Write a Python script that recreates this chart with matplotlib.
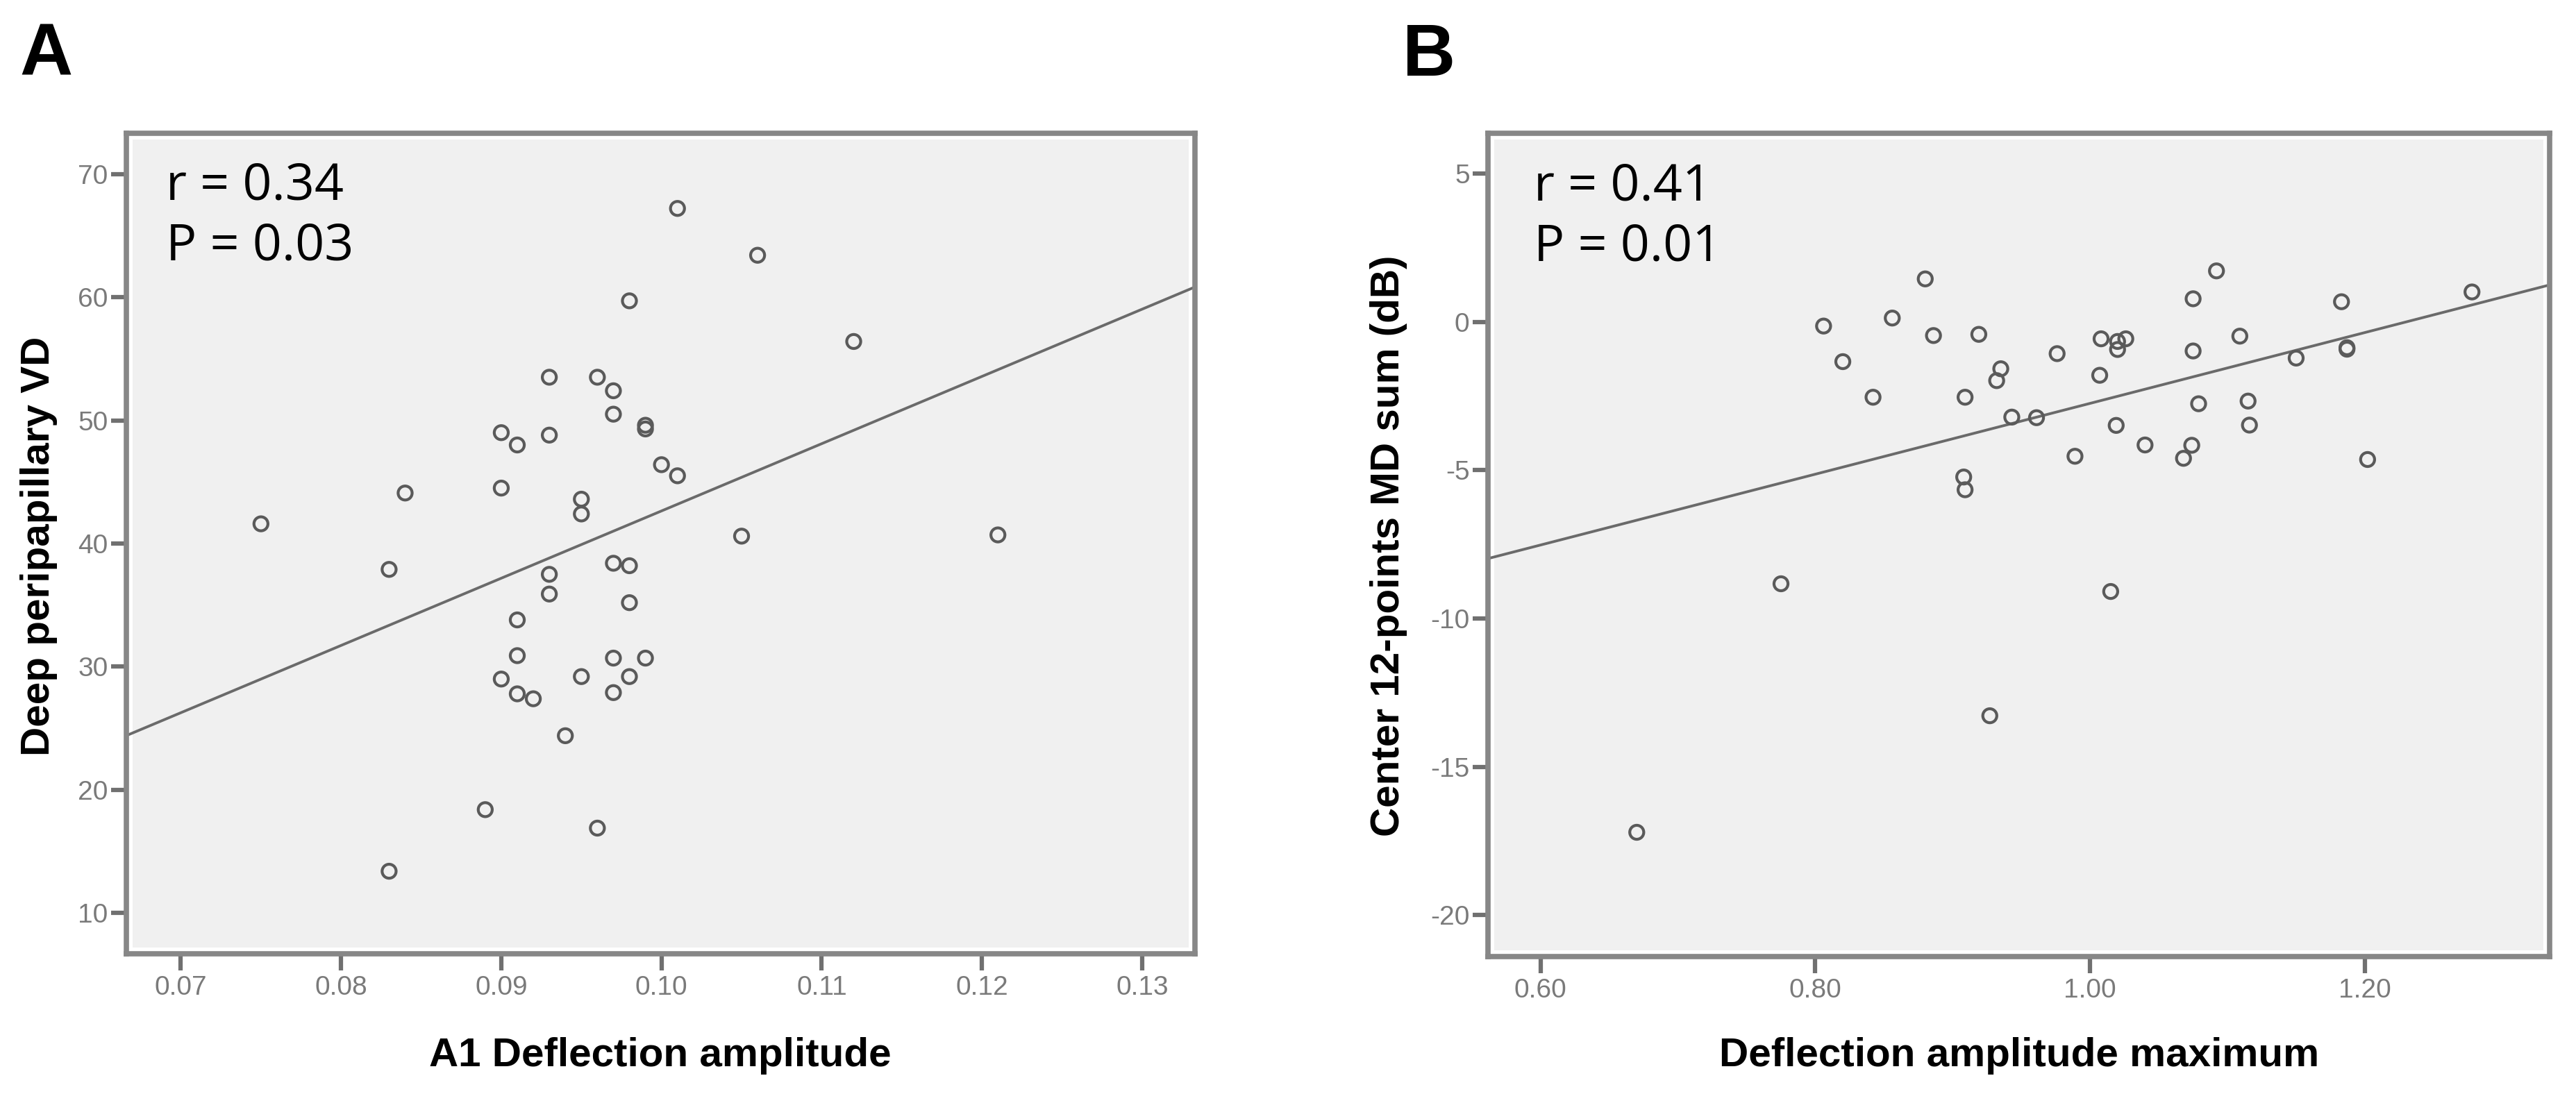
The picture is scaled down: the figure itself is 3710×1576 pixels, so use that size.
import numpy as np
import matplotlib
matplotlib.use('Agg')
import matplotlib.pyplot as plt
import matplotlib.patches as patches

# --- data ---
# Panel A
a1_deflection = [0.101, 0.106, 0.098, 0.112, 0.093, 0.096, 0.097, 0.097, 0.099, 0.099,
                 0.090, 0.091, 0.093, 0.100, 0.101, 0.090, 0.084, 0.095, 0.095, 0.075,
                 0.105, 0.121, 0.083, 0.097, 0.098, 0.093, 0.093, 0.098, 0.091, 0.091,
                 0.097, 0.099, 0.090, 0.095, 0.098, 0.091, 0.092, 0.097, 0.094, 0.089,
                 0.096, 0.083]
deep_vd = [67.2, 63.4, 59.7, 56.4, 53.5, 53.5, 52.4, 50.5, 49.6, 49.3,
           49.0, 48.0, 48.8, 46.4, 45.5, 44.5, 44.1, 43.6, 42.4, 41.6,
           40.6, 40.7, 37.9, 38.4, 38.2, 37.5, 35.9, 35.2, 33.8, 30.9,
           30.7, 30.7, 29.0, 29.2, 29.2, 27.8, 27.4, 27.9, 24.4, 18.4,
           16.9, 13.4]
a_xticks = [0.07, 0.08, 0.09, 0.10, 0.11, 0.12, 0.13]
a_yticks = [10, 20, 30, 40, 50, 60, 70]
a_xlim = (0.0666, 0.1333)
a_ylim = (6.7, 73.3)
a_stats = ['r = 0.34', 'P = 0.03']

# Panel B
deflection_max = [0.880, 0.856, 0.886, 0.919, 1.092, 1.075, 1.109, 1.075, 0.976, 1.008,
                  1.020, 1.026, 1.020, 0.935, 0.932, 1.007, 0.842, 0.909, 1.079, 1.115,
                  0.943, 0.961, 1.019, 1.116, 1.040, 1.074, 1.068, 0.989, 0.908, 0.909,
                  1.015, 1.183, 1.278, 0.806, 0.820, 1.150, 1.187, 1.187, 1.202, 0.775,
                  0.927, 0.670]
md_sum = [1.45, 0.13, -0.46, -0.42, 1.72, 0.78, -0.48, -0.98, -1.07, -0.57,
          -0.66, -0.57, -0.93, -1.58, -1.98, -1.80, -2.54, -2.54, -2.76, -2.67,
          -3.21, -3.23, -3.49, -3.48, -4.15, -4.16, -4.60, -4.53, -5.23, -5.66,
          -9.09, 0.68, 1.01, -0.14, -1.34, -1.22, -0.87, -0.92, -4.64, -8.83,
          -13.28, -17.21]
b_xticks = [0.60, 0.80, 1.00, 1.20]
b_yticks = [5, 0, -5, -10, -15, -20]
b_xlim = (0.5617, 1.3345)
b_ylim = (-21.4, 6.36)
b_stats = ['r = 0.41', 'P = 0.01']

W, H = 3710, 1576
fig = plt.figure(figsize=(W / 100, H / 100), dpi=100)

tick_font = ['Liberation Sans', 'DejaVu Sans']
label_font = ['Liberation Sans', 'DejaVu Sans']
stat_font = ['Open Sans', 'DejaVu Sans']


def px_box(x0, y0, x1, y1):
    # pixel box (top-left origin) -> figure fraction rect
    return [x0 / W, 1 - y1 / H, (x1 - x0) / W, (y1 - y0) / H]


def style_axes(ax, xticks, yticks, xfmt, xlim, ylim):
    ax.set_facecolor('#f0f0f0')
    ax.set_xlim(*xlim)
    ax.set_ylim(*ylim)
    for sp in ax.spines.values():
        sp.set_color('#878787')
        sp.set_linewidth(5.5)
    # thin white frame just inside the border
    ax.add_patch(patches.Rectangle((0, 0), 1, 1, transform=ax.transAxes, fill=False,
                                   edgecolor='white', linewidth=13, zorder=0.6, clip_on=False))
    ax.set_xticks(xticks)
    ax.set_xticklabels([xfmt.format(v) for v in xticks])
    ax.set_yticks(yticks)
    ax.set_yticklabels([str(v) for v in yticks])
    ax.tick_params(axis='both', direction='out', color='#707070', width=4.5,
                   labelcolor='#7a7a7a', labelsize=28)
    ax.tick_params(axis='x', length=17, pad=5)
    ax.tick_params(axis='y', length=16, pad=3)
    for lab in ax.get_xticklabels() + ax.get_yticklabels():
        lab.set_family(tick_font)


def draw_panel(ax, x, y, stats, left_frac):
    ax.scatter(x, y, s=210, facecolors='none', edgecolors='#5a5a5a', linewidths=3, zorder=3)
    slope, intercept = np.polyfit(x, y, 1)
    xs = np.array(ax.get_xlim())
    ax.plot(xs, slope * xs + intercept, color='#6a6a6a', linewidth=2.8, zorder=2)
    ax.set_xlim(*xs)
    ax.text(left_frac, 0.919, stats[0], transform=ax.transAxes, fontsize=53,
            family=stat_font, va='baseline', ha='left', color='black')
    ax.text(left_frac, 0.8455, stats[1], transform=ax.transAxes, fontsize=53,
            family=stat_font, va='baseline', ha='left', color='black')


# Panel A
ax_a = fig.add_axes(px_box(182, 192, 1721, 1374))
style_axes(ax_a, a_xticks, a_yticks, '{:.2f}', a_xlim, a_ylim)
draw_panel(ax_a, a1_deflection, deep_vd, a_stats, 0.037)

# Panel B
ax_b = fig.add_axes(px_box(2143, 192, 3672, 1378))
style_axes(ax_b, b_xticks, b_yticks, '{:.2f}', b_xlim, b_ylim)
draw_panel(ax_b, deflection_max, md_sum, b_stats, 0.043)

# axis titles
fig.text(951 / W, 1 - 1536 / H, 'A1 Deflection amplitude', ha='center', va='baseline',
         fontsize=42, fontweight='bold', family=label_font)
fig.text(56 / W, 1 - 787 / H, 'Deep peripapillary VD', ha='center', va='center',
         rotation=90, fontsize=42, fontweight='bold', family=label_font)
fig.text(2908 / W, 1 - 1536 / H, 'Deflection amplitude maximum', ha='center', va='baseline',
         fontsize=42, fontweight='bold', family=label_font)
fig.text(2000 / W, 1 - 786 / H, 'Center 12-points MD sum (dB)', ha='center', va='center',
         rotation=90, fontsize=42, fontweight='bold', family=label_font)

# panel letters
fig.text(28 / W, 1 - 109 / H, 'A', ha='left', va='baseline', fontsize=76,
         fontweight='bold', family=label_font)
fig.text(2020 / W, 1 - 109 / H, 'B', ha='left', va='baseline', fontsize=76,
         fontweight='bold', family=label_font)

fig.savefig('out.png', dpi=100, facecolor='white')
